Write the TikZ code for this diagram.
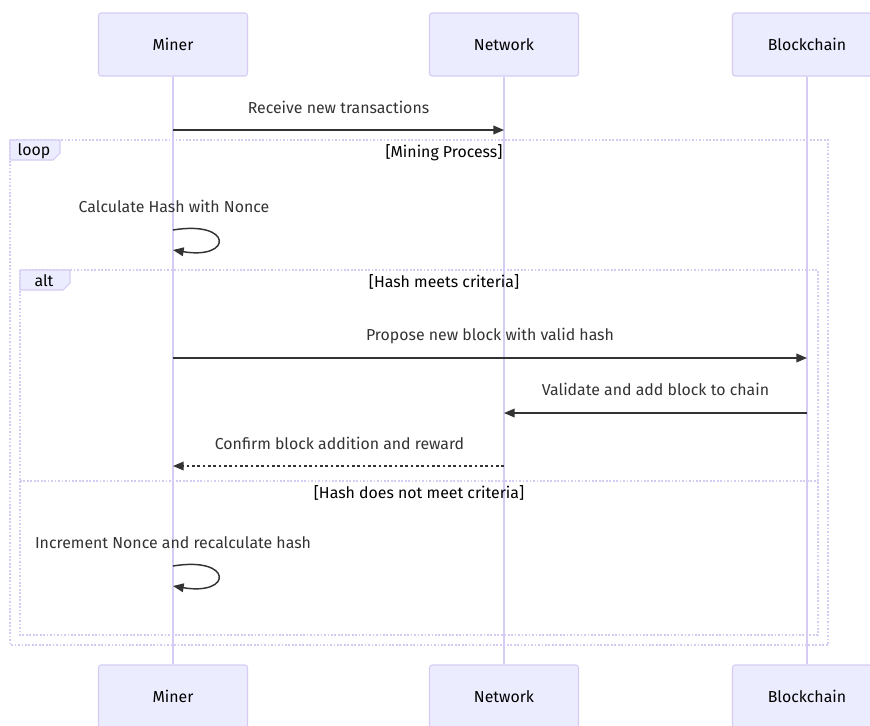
\documentclass[tikz,border=0pt]{standalone}
\usepackage{fontspec}
\setmainfont{Fira Sans}
\usetikzlibrary{arrows.meta}
\definecolor{actfill}{HTML}{ECECFF}
\definecolor{actline}{HTML}{D6CCF3}
\definecolor{frameline}{HTML}{D6CCF3}
\definecolor{msg}{HTML}{333333}
\begin{document}
\begin{tikzpicture}[x=0.75pt,y=-0.75pt,
  font=\fontsize{11.9}{14}\selectfont,
  actor/.style={draw=actline, fill=actfill, rounded corners=2pt, minimum width=111.75pt, minimum height=47.25pt, line width=0.8pt, text=black, inner sep=0pt},
  life/.style={draw=actline, line width=1.1pt},
  msgline/.style={draw=msg, line width=1.1pt, -{Triangle[length=8pt,width=6.5pt]}},
  dashmsg/.style={msgline, dash pattern=on 2pt off 2pt},
  frame/.style={draw=frameline, line width=1.3pt, dash pattern=on 1.3pt off 1.3pt},
  tab/.style={draw=frameline, fill=actfill, line width=0.8pt},
  msgtext/.style={text=msg, inner sep=0pt, anchor=center},
  lbltext/.style={text=black, inner sep=0pt, anchor=center}]
\useasboundingbox (0,0) rectangle (870,725);
\clip (0,0) rectangle (870,725);
\fill[white] (0,0) rectangle (870,725);

% actors
\node[actor] (miner) at (173,44.5) {Miner};
\node[actor] (network) at (504,44.5) {Network};
\node[actor] (chain) at (807,44.5) {Blockchain};
\node[actor] (minerB) at (173,696.5) {Miner};
\node[actor] (networkB) at (504,696.5) {Network};
\node[actor] (chainB) at (807,696.5) {Blockchain};

% lifelines
\draw[life] (miner.south) -- (minerB.north);
\draw[life] (network.south) -- (networkB.north);
\draw[life] (chain.south) -- (chainB.north);

% frames
\draw[frame] (10,140) rectangle (828,645);
\draw[frame] (20,270) rectangle (818,635);
\draw[frame] (20,481) -- (818,481);

\draw[tab] (10,140) -- (60,140) -- (60,153) -- (53,160) -- (10,160) -- cycle;
\node[lbltext] (looplbl) at (34,151) {loop};
\node[lbltext] (loopcond) at (444,153) {[Mining Process]};

\draw[tab] (20,270) -- (70,270) -- (70,283) -- (63,290) -- (20,290) -- cycle;
\node[lbltext] (altlbl) at (44,281) {alt};
\node[lbltext] (altcond1) at (444,282) {[Hash meets criteria]};
\node[lbltext] (altcond2) at (419,493) {[Hash does not meet criteria]};

% message coordinates
\coordinate (m1) at (173,130);
\coordinate (n1) at (504,130);
\coordinate (m2a) at (173,230);
\coordinate (m2b) at (173,250);
\coordinate (m3) at (173,358);
\coordinate (c3) at (807,358);
\coordinate (c4) at (807,413);
\coordinate (n4) at (504,413);
\coordinate (n5) at (504,466);
\coordinate (m5) at (173,466);
\coordinate (m6a) at (173,566);
\coordinate (m6b) at (173,586);

\node[msgtext] (t1) at (338.5,107) {Receive new transactions};
\draw[msgline] (m1) -- (n1);

\node[msgtext] (t2) at (174,206) {Calculate Hash with Nonce};
\draw[msgline] (m2a) .. controls ++(60,-10) and ++(60,10) .. (m2b);

\node[msgtext] (t3) at (490,336) {Propose new block with valid hash};
\draw[msgline] (m3) -- (c3);

\node[msgtext] (t4) at (655.5,389) {Validate and add block to chain};
\draw[msgline] (c4) -- (n4);

\node[msgtext] (t5) at (339.5,443) {Confirm block addition and reward};
\draw[dashmsg] (n5) -- (m5);

\node[msgtext] (t6) at (173,543) {Increment Nonce and recalculate hash};
\draw[msgline] (m6a) .. controls ++(60,-10) and ++(60,10) .. (m6b);
\end{tikzpicture}
\end{document}
